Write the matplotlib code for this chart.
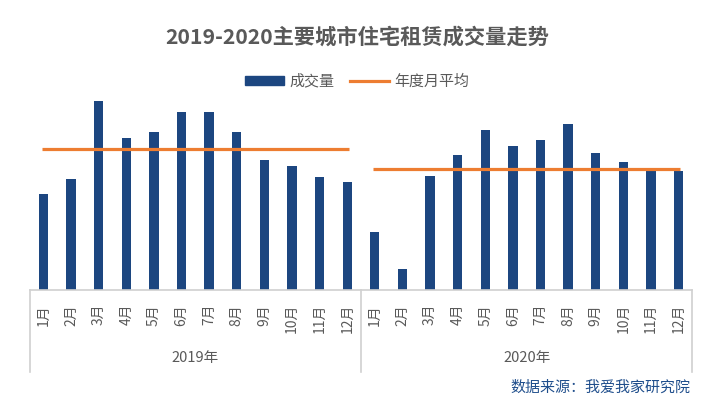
import numpy as np
import matplotlib
matplotlib.use("Agg")
import matplotlib.pyplot as plt
import matplotlib.transforms as mtransforms
from matplotlib.patches import Patch
from matplotlib.lines import Line2D

plt.rcParams['font.family'] = ['Noto Sans CJK SC', 'DejaVu Sans']

years = ["2019年", "2020年"]
months = [f"{m}月" for m in range(1, 13)]
volume_2019 = [96, 111, 189, 152, 158, 178, 178, 158, 130, 124, 113, 108]
volume_2020 = [58, 21, 114, 135, 160, 144, 150, 166, 137, 128, 121, 119]

bar_color = "#1C4680"
avg_color = "#ED7D31"
text_color = "#595959"
line_grey = "#D0D0D0"

fig = plt.figure(figsize=(7.14, 4.07), dpi=100)
ax = fig.add_axes([0.0416, 0.2875, 0.928, 0.4914])

values = volume_2019 + volume_2020
x = np.arange(len(values))
ax.bar(x, values, width=0.34, color=bar_color, zorder=2)

# yearly monthly averages
for i, series in enumerate([volume_2019, volume_2020]):
    xs = x[i * 12:(i + 1) * 12]
    avg = np.mean(series)
    ax.plot([xs[0] - 0.05, xs[-1] + 0.05], [avg, avg], color=avg_color, lw=2.3,
            zorder=3, solid_capstyle='butt')

ax.set_xlim(-0.5, len(values) - 0.5)
ax.set_ylim(0, 200)
ax.set_yticks([])
ax.set_xticks(x)
ax.set_xticklabels(months * 2, rotation=90, fontsize=10, color=text_color)
ax.tick_params(axis='x', length=0, pad=10)
for s in ['top', 'left', 'right']:
    ax.spines[s].set_visible(False)
ax.spines['bottom'].set_color(line_grey)
ax.spines['bottom'].set_linewidth(1.2)

# multi-level category axis
trans = mtransforms.blended_transform_factory(ax.transData, ax.transAxes)
for xv in [-0.5, 11.5, 23.5]:
    ax.add_line(Line2D([xv, xv], [0, -0.41], transform=trans, color=line_grey,
                       lw=1.2, clip_on=False))
for i, yr in enumerate(years):
    ax.text(i * 12 + 5.5, -0.34, yr, transform=trans, ha='center', va='center',
            fontsize=10.5, color=text_color)

fig.text(0.5, 0.909, "2019-2020主要城市住宅租赁成交量走势", ha='center', va='center',
         fontsize=15.3, fontweight='bold', color=text_color)

handles = [Patch(color=bar_color), Line2D([0], [0], color=avg_color, lw=2.3)]
fig.legend(handles, ["成交量", "年度月平均"], loc='center', bbox_to_anchor=(0.5, 0.8),
           ncol=2, frameon=False, fontsize=10.8, labelcolor=text_color,
           handlelength=2.6, handleheight=0.55, columnspacing=1.0, handletextpad=0.4)

fig.text(0.967, 0.047, "数据来源：我爱我家研究院", ha='right', va='center',
         fontsize=10.8, color="#1F4E8C")

fig.savefig("out.png", dpi=100)
